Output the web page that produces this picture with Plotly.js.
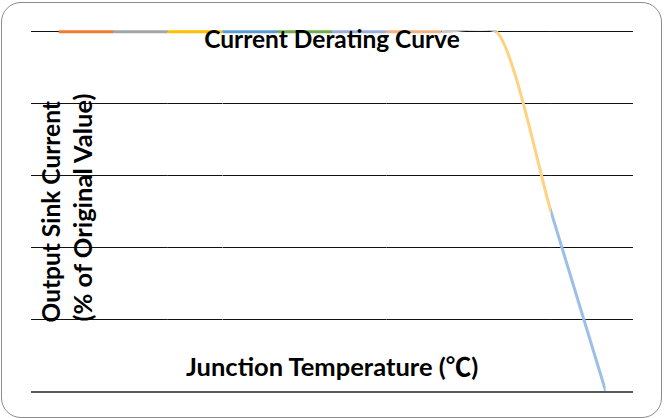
<!DOCTYPE html>
<html>
<head>
<meta charset="utf-8">
<script src="https://cdn.plot.ly/plotly-3.0.1.min.js"></script>
<style>
  html, body { margin: 0; padding: 0; background: #fff; }
  #wrap { position: relative; width: 664px; height: 418px; overflow: hidden; }
  #chart { position: absolute; left: 0; top: 0; width: 664px; height: 418px; }
  #frame { position: absolute; left: 1px; top: 2px; width: 661px; height: 416px;
           box-sizing: border-box; border: 1.5px solid #8c8c8c; border-radius: 20px;
           pointer-events: none; }
</style>
</head>
<body>
<div id="wrap">
  <div id="chart"></div>
  <div id="frame"></div>
</div>
<script>
// ---- data ----
const tempIndex = [0, 1, 2, 3, 4, 5, 6, 7, 8, 9, 10];
const sinkCurrentPct = [100, 100, 100, 100, 100, 100, 100, 100, 100, 50, 0];
const segmentColors = ['#ED7D31', '#A5A5A5', '#FFC000', '#5B9BD5', '#70AD47',
                       '#9AAEDF', '#F4B183', '#C9C9C9', '#FFD27F', '#9BBFE6'];
const yTickVals = [20, 40, 60, 80, 100];
const chartTitle = 'Current Derating Curve';
const xTitle = 'Junction Temperature (<span style="font-family:\'Noto Sans CJK SC\'">℃</span>)';
const yTitleLine1 = 'Output Sink Current';
const yTitleLine2 = '(% of Original Value)';

// ---- build ----
const nCat = tempIndex.length;
const fontFam = 'Lato, "Noto Sans CJK SC", sans-serif';
const traces = [];
const layout = {
  width: 664, height: 418,
  margin: {l: 31, r: 31, t: 30, b: 27, pad: 0},
  paper_bgcolor: '#fff', plot_bgcolor: '#fff',
  showlegend: false,
  title: {text: chartTitle, font: {family: fontFam, size: 24.5, weight: 700, color: '#000'},
          x: 0.5, xref: 'paper', xanchor: 'center', y: 1 - 39.5 / 418, yref: 'container', yanchor: 'middle'},
  xaxis: {range: [-0.5, nCat - 0.5], domain: [0, 1], showgrid: false, zeroline: false,
          showticklabels: false, ticks: '', showline: true, linecolor: '#595959', linewidth: 2,
          anchor: 'y', fixedrange: true},
  yaxis: {range: [0, 100.5], tickvals: yTickVals, showgrid: true, gridcolor: '#111', gridwidth: 1,
          zeroline: false, showticklabels: false, ticks: '', showline: false, anchor: 'x', fixedrange: true},
  annotations: [
    {text: xTitle, xref: 'paper', yref: 'paper', x: 0.5, y: (391 - 364.5) / 361,
     xanchor: 'center', yanchor: 'middle', showarrow: false,
     font: {family: fontFam, size: 25.5, weight: 700, color: '#000'}},
    {text: yTitleLine1, xref: 'paper', yref: 'paper', x: (50 - 31) / 602, y: (391 - 212.5) / 361,
     xanchor: 'center', yanchor: 'middle', textangle: -90, showarrow: false,
     font: {family: fontFam, size: 24.5, weight: 700, color: '#000'}},
    {text: yTitleLine2, xref: 'paper', yref: 'paper', x: (81.5 - 31) / 602, y: (391 - 208) / 361,
     xanchor: 'center', yanchor: 'middle', textangle: -90, showarrow: false,
     font: {family: fontFam, size: 25.5, weight: 700, color: '#000'}}
  ]
};

// base subplot (grid + axis line); the series itself is drawn per segment below
traces.push({type: 'scatter', mode: 'none', x: tempIndex, y: sinkCurrentPct,
             xaxis: 'x', yaxis: 'y', hoverinfo: 'skip'});

// one smoothed copy of the whole series per segment, each on its own x-axis whose
// domain covers only that segment, so the subplot clip shows just that piece
for (let k = 0; k < nCat - 1; k++) {
  const axName = 'xaxis' + (k + 2);
  layout[axName] = {
    domain: [(k + 0.5) / nCat, (k + 1.5) / nCat],
    range: [tempIndex[k], tempIndex[k + 1]],
    visible: false, showgrid: false, zeroline: false, anchor: 'y', fixedrange: true
  };
  traces.push({
    type: 'scatter', mode: 'lines',
    x: tempIndex, y: sinkCurrentPct,
    xaxis: 'x' + (k + 2), yaxis: 'y',
    line: {color: segmentColors[k], width: 3, shape: 'spline', smoothing: 0.6, simplify: false},
    hoverinfo: 'skip'
  });
}

Plotly.newPlot('chart', traces, layout, {staticPlot: true, displayModeBar: false});
</script>
</body>
</html>
